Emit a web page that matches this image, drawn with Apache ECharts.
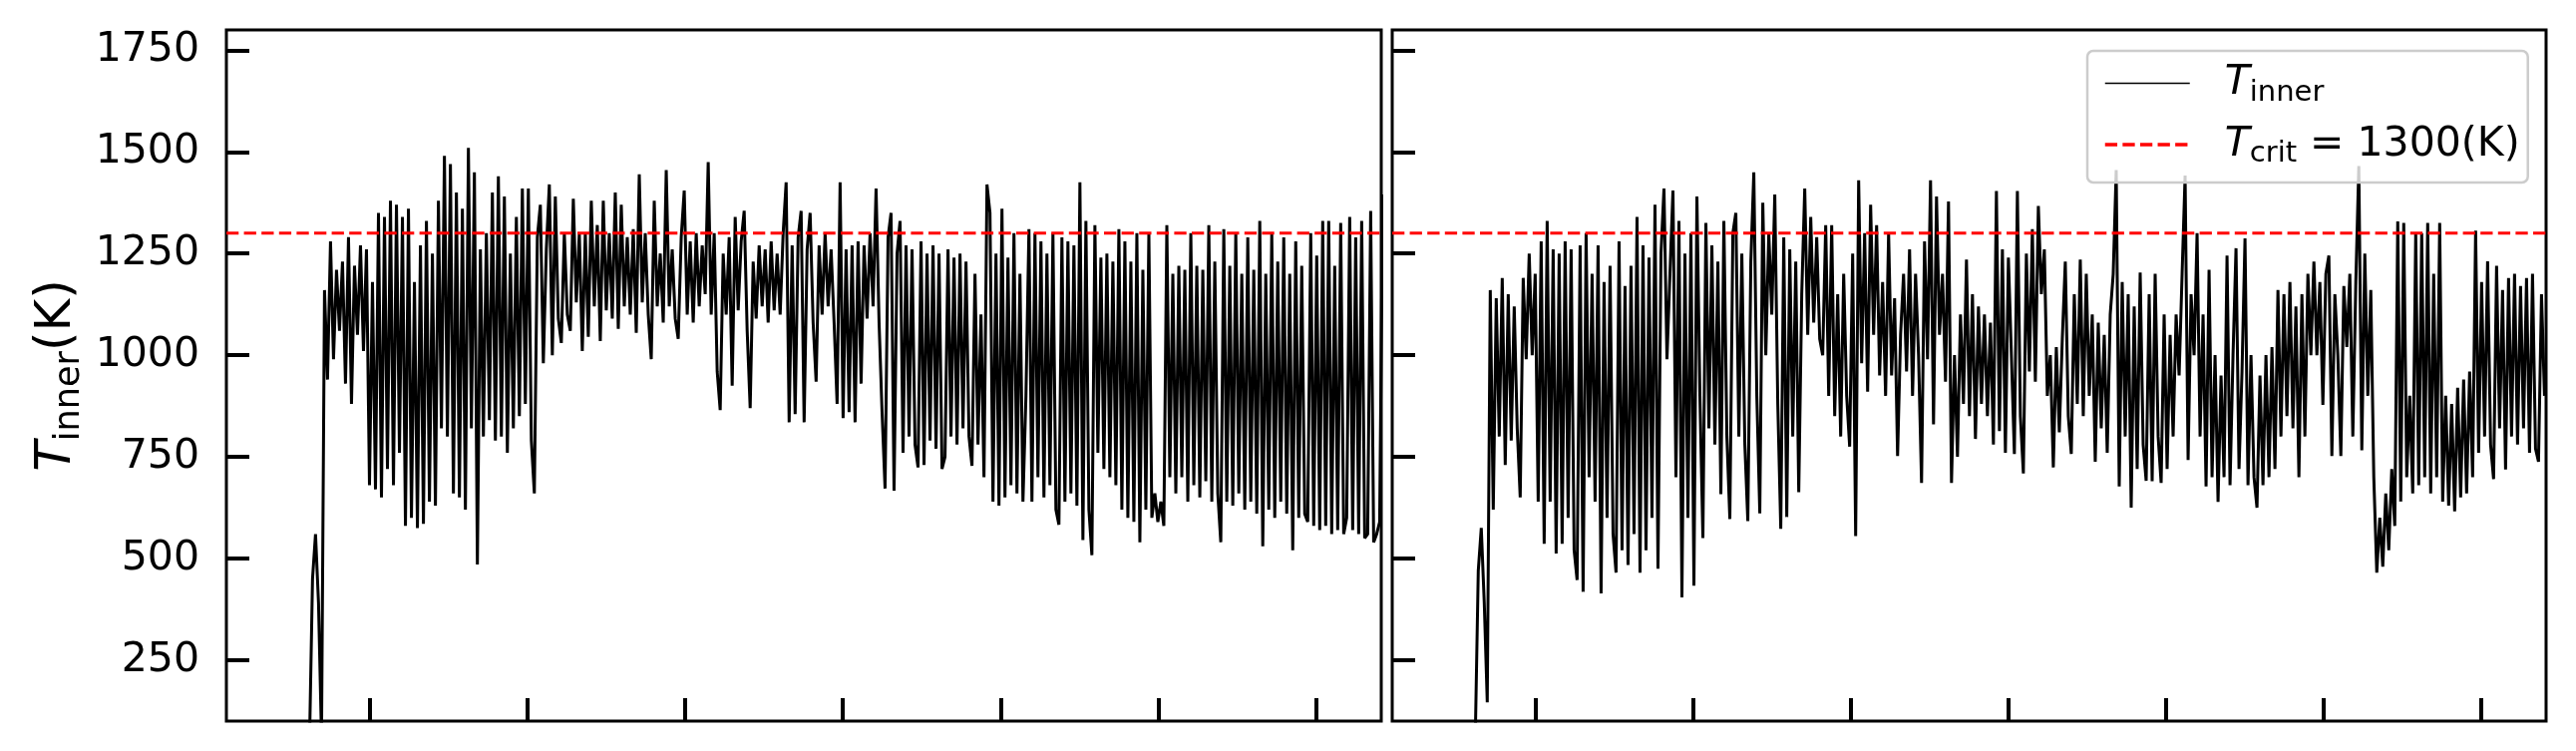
<!DOCTYPE html>
<html>
<head>
<meta charset="utf-8">
<script src="https://cdn.jsdelivr.net/npm/echarts@6/dist/echarts.min.js"></script>
<style>
html, body { margin: 0; padding: 0; background: #fff; }
#chart { width: 2583px; height: 753px; }
</style>
</head>
<body>
<div id="chart"></div>
<script>
// x: one unit per major tick (labels hidden in the original), samples every dt
var t0 = -0.38
var dt = 0.019
var xMin = -0.907
var xMax = 6.413
var xTicks = [0, 1, 2, 3, 4, 5, 6]
var yTicks = [250, 500, 750, 1000, 1250, 1500, 1750]
var tCrit = 1300

// T_inner (K), left panel
var leftTemp = [
  50, 450, 560, 390, 60, 1160, 940, 1280, 990, 1210, 1060, 1230, 930, 1290, 880, 1220, 1050, 1270, 1010, 1260,
  680, 1180, 670, 1350, 650, 1340, 720, 1380, 680, 1370, 760, 1340, 580, 1360, 600, 1180, 575, 1270, 585, 1330,
  640, 1250, 630, 1380, 820, 1490, 800, 1470, 660, 1400, 650, 1360, 620, 1510, 820, 1450, 485, 1260, 800, 1300,
  840, 1400, 790, 1440, 800, 1390, 760, 1250, 820, 1340, 850, 1410, 880, 1410, 790, 660, 1290, 1370, 980, 1260,
  1420, 1000, 1390, 1090, 1030, 1300, 1100, 1060, 1385, 1130, 1300, 1010, 1300, 1045, 1380, 1120, 1320, 1035, 1380, 1110,
  1300, 1090, 1400, 1065, 1370, 1120, 1290, 1100, 1310, 1055, 1445, 1130, 1300, 1100, 990, 1380, 1120, 1250, 1080, 1455,
  1120, 1260, 1090, 1040, 1290, 1405, 1100, 1280, 1080, 1300, 1120, 1270, 1150, 1475, 1100, 1300, 960, 865, 1250, 1100,
  1290, 925, 1340, 1110, 1280, 1355, 1060, 870, 1230, 1090, 1270, 1120, 1260, 1080, 1280, 1110, 1250, 1100, 1300, 1425,
  835, 1270, 855, 1290, 1355, 835, 1260, 1350, 1080, 935, 1270, 1100, 1300, 1120, 1260, 1080, 880, 1425, 845, 1260,
  860, 1270, 835, 1280, 930, 1270, 1090, 1300, 1120, 1410, 1080, 860, 672, 1290, 1350, 667, 1250, 1330, 760, 1270,
  800, 1260, 780, 724, 1280, 730, 1250, 790, 1270, 770, 1250, 720, 750, 1260, 800, 1240, 780, 1250, 820, 1230,
  800, 728, 1200, 780, 1100, 700, 1420, 1350, 640, 1250, 630, 1360, 650, 1240, 680, 1300, 660, 1200, 640, 900,
  1310, 640, 1300, 700, 1280, 650, 1250, 680, 1300, 620, 583, 1290, 640, 1280, 660, 1270, 630, 1425, 545, 1330,
  620, 508, 1320, 760, 1240, 720, 1250, 700, 1230, 680, 1310, 620, 1280, 600, 1230, 590, 1300, 540, 1210, 620,
  1300, 600, 660, 590, 640, 580, 1320, 700, 1200, 660, 1220, 700, 1210, 640, 1300, 680, 1220, 650, 1210, 690,
  1320, 640, 1230, 660, 540, 1310, 640, 1220, 630, 1300, 660, 1200, 620, 1290, 640, 1210, 610, 1330, 530, 1200,
  620, 1300, 600, 1230, 640, 1290, 610, 1200, 520, 1280, 600, 1220, 610, 590, 1300, 580, 1245, 570, 1330, 580,
  1330, 560, 1220, 570, 1325, 560, 600, 1340, 570, 1290, 560, 1330, 550, 560, 1355, 540, 560, 590, 1395
]

// T_inner (K), right panel
var rightTemp = [
  60, 470, 575, 390, 146, 1160, 620, 1140, 800, 1190, 730, 1150, 790, 1120, 820, 650, 1190, 990, 1250, 1000,
  1200, 640, 1280, 536, 1330, 640, 1260, 512, 1250, 536, 1280, 600, 1260, 520, 447, 1270, 418, 1300, 700, 1200,
  640, 1270, 414, 1180, 600, 1220, 560, 465, 1280, 520, 1170, 484, 1220, 560, 1340, 465, 1270, 520, 1240, 600,
  1370, 475, 1250, 1410, 990, 1200, 1405, 700, 1330, 404, 1250, 600, 1300, 433, 1390, 900, 550, 1325, 820, 1270,
  780, 1230, 658, 1330, 800, 597, 1300, 1350, 800, 1250, 780, 592, 1230, 1450, 900, 611, 1375, 1000, 1300, 1100,
  1395, 880, 573, 1290, 602, 1260, 800, 1230, 663, 1150, 1410, 1050, 1340, 1080, 1290, 1040, 1000, 1320, 900, 1320,
  850, 1150, 800, 1200, 900, 775, 1250, 555, 1430, 980, 1300, 910, 1370, 1050, 1320, 950, 1180, 900, 1300, 950,
  1140, 752, 1050, 1200, 960, 1260, 900, 1200, 1000, 686, 1280, 990, 1430, 830, 1390, 1050, 1200, 935, 1378, 686,
  1000, 750, 1100, 880, 1235, 850, 1150, 794, 1120, 880, 1100, 850, 1080, 780, 1404, 813, 1260, 760, 1240, 1000,
  757, 1404, 850, 709, 1250, 960, 1310, 935, 1367, 1150, 1260, 900, 1000, 724, 1020, 810, 1040, 1230, 850, 757,
  1150, 880, 1235, 850, 1200, 900, 1100, 738, 1080, 820, 1050, 760, 1100, 1200, 1455, 677, 1180, 800, 1150, 625,
  1120, 720, 1203, 780, 691, 1150, 690, 1200, 800, 686, 1100, 720, 1050, 800, 1100, 950, 1200, 1442, 742, 1150,
  1000, 1300, 800, 1100, 677, 1210, 700, 1000, 639, 950, 700, 1245, 680, 1000, 1263, 720, 960, 1287, 680, 1000,
  700, 625, 950, 680, 1000, 700, 1020, 720, 1160, 800, 1150, 850, 1180, 820, 1120, 700, 1150, 800, 1200, 1000,
  1230, 1000, 1180, 878, 1200, 1245, 752, 1150, 1000, 752, 1170, 1020, 1200, 800, 1180, 1465, 766, 1250, 900, 1160,
  700, 465, 600, 480, 660, 520, 720, 580, 1329, 640, 1325, 700, 900, 660, 1300, 680, 1300, 700, 1325, 660,
  1200, 700, 1325, 640, 900, 630, 880, 616, 920, 650, 940, 660, 960, 700, 1306, 760, 1180, 800, 1231, 780,
  695, 1220, 820, 1160, 719, 1190, 800, 1200, 780, 1170, 820, 1190, 760, 1200, 770, 738, 1150, 900
]

var font = 'DejaVu Sans'

function toPoints(arr) {
  return arr.map(function (v, i) { return [t0 + i * dt, v] })
}

var chart = echarts.init(document.getElementById('chart'))

var tickStyle = { show: true, inside: true, length: 23, lineStyle: { color: '#000', width: 4 } }

function makeX(idx) {
  return {
    type: 'value', gridIndex: idx, min: xMin, max: xMax,
    axisLine: { show: false, onZero: false }, splitLine: { show: false },
    axisLabel: { show: false },
    axisTick: Object.assign({ customValues: xTicks }, tickStyle)
  }
}

function makeY(idx) {
  var ax = {
    type: 'value', gridIndex: idx, min: 100, max: 1800,
    axisLine: { show: false, onZero: false }, splitLine: { show: false },
    axisTick: Object.assign({ customValues: yTicks }, tickStyle),
    axisLabel: {
      show: idx === 0, customValues: yTicks, margin: 27,
      fontSize: 41, fontFamily: font, color: '#000',
      formatter: function (v) { return String(v) }
    }
  }
  if (idx === 0) {
    ax.name = '{t|T}{s|inner}{n|(K)}'
    ax.nameLocation = 'middle'
    ax.nameRotate = 90
    ax.nameGap = 140
    ax.nameTextStyle = {
      color: '#000',
      rich: {
        t: { fontFamily: font, fontStyle: 'italic', fontSize: 50, lineHeight: 60, color: '#000' },
        s: { fontFamily: font, fontSize: 35, lineHeight: 38, verticalAlign: 'bottom', color: '#000' },
        n: { fontFamily: font, fontSize: 50, lineHeight: 60, color: '#000' }
      }
    }
  }
  return ax
}

function tempSeries(idx, arr) {
  return {
    type: 'line', name: 'Tinner', xAxisIndex: idx, yAxisIndex: idx,
    data: toPoints(arr), symbol: 'none', clip: true, z: 2,
    lineStyle: { color: '#000', width: 3, join: 'miter', miterLimit: 3 }, itemStyle: { color: '#000' }
  }
}

function critSeries(idx) {
  return {
    type: 'line', name: 'Tcrit', xAxisIndex: idx, yAxisIndex: idx,
    data: [[xMin, tCrit], [xMax, tCrit]], symbol: 'none', z: 3,
    lineStyle: { color: '#ff0000', width: 3, type: [12.3, 5.3] }, itemStyle: { color: '#ff0000' }
  }
}

chart.setOption({
  animation: false,
  backgroundColor: '#fff',
  grid: [
    { left: 227, top: 30, width: 1158, height: 693, show: true, borderColor: '#000', borderWidth: 3 },
    { left: 1396, top: 30, width: 1157, height: 693, show: true, borderColor: '#000', borderWidth: 3 }
  ],
  xAxis: [makeX(0), makeX(1)],
  yAxis: [makeY(0), makeY(1)],
  legend: {
    data: [
      { name: 'Tinner', lineStyle: { width: 1.3 } },
      { name: 'Tcrit', lineStyle: { width: 3.5 } }
    ],
    orient: 'vertical', left: 2093, top: 51,
    padding: [12, 8, 14, 16], itemGap: 17, itemWidth: 85, itemHeight: 20,
    backgroundColor: 'rgba(255,255,255,0.8)', borderColor: '#cccccc', borderWidth: 2.5, borderRadius: 6,
    selectedMode: false,
    itemStyle: { opacity: 0 },
    formatter: function (name) {
      return name === 'Tinner' ? '{t|T}{s|inner}' : '{t|T}{s|crit}{n| = 1300(K)}'
    },
    textStyle: {
      color: '#000', padding: [0, 0, 0, 30],
      rich: {
        t: { fontFamily: font, fontStyle: 'italic', fontSize: 41, lineHeight: 48, color: '#000' },
        s: { fontFamily: font, fontSize: 29, lineHeight: 30, verticalAlign: 'bottom', color: '#000' },
        n: { fontFamily: font, fontSize: 41, lineHeight: 48, color: '#000' }
      }
    }
  },
  series: [tempSeries(0, leftTemp), tempSeries(1, rightTemp), critSeries(0), critSeries(1)]
})
</script>
</body>
</html>
